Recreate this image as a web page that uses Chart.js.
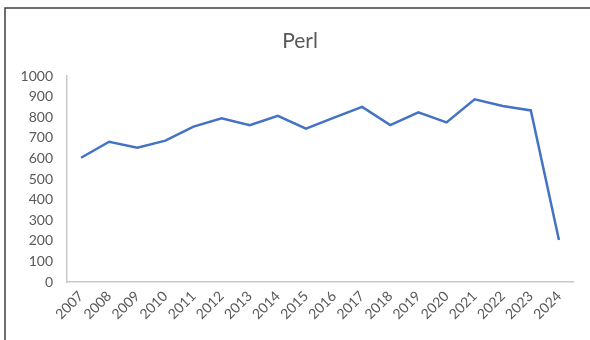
<!DOCTYPE html>
<html>
<head>
<meta charset="utf-8">
<script src="https://cdn.jsdelivr.net/npm/chart.js@4"></script>
<style>
  html, body { margin: 0; padding: 0; background: #ffffff; }
  #wrap { position: relative; width: 590px; height: 340px; }
</style>
</head>
<body>
<div id="wrap"><canvas id="chart" width="590" height="340"></canvas></div>
<script>
// Yearly values for the Perl series
const years = ['2007','2008','2009','2010','2011','2012','2013','2014','2015',
               '2016','2017','2018','2019','2020','2021','2022','2023','2024'];
const perlValues = [603, 681, 652, 686, 754, 795, 761, 807, 744,
                    798, 850, 762, 824, 775, 887, 854, 833, 204];
const yTicks = [0, 100, 200, 300, 400, 500, 600, 700, 800, 900, 1000];
const chartTitle = 'Perl';

const FONT = "Lato, 'Open Sans', sans-serif";
const TEXT = '#595959';
const AXIS = '#C9C9C9';

// Thin dark frame along the top and left edges, plus the title
const framePlugin = {
  id: 'frame',
  beforeDraw(chart) {
    const ctx = chart.ctx;
    ctx.save();
    ctx.fillStyle = '#ffffff';
    ctx.fillRect(0, 0, chart.width, chart.height);
    ctx.strokeStyle = '#3f3f3f';
    ctx.lineWidth = 1.5;
    ctx.beginPath();
    ctx.moveTo(5, chart.height);
    ctx.lineTo(5, 8);
    ctx.lineTo(chart.width, 8);
    ctx.stroke();
    ctx.restore();
  },
  afterDraw(chart) {
    const ctx = chart.ctx;
    ctx.save();
    ctx.fillStyle = TEXT;
    ctx.font = "21px " + FONT;
    ctx.textAlign = 'center';
    ctx.textBaseline = 'alphabetic';
    ctx.fillText(chartTitle, 300, 48);
    ctx.restore();
  }
};

new Chart(document.getElementById('chart'), {
  type: 'line',
  data: {
    labels: years,
    datasets: [{
      label: chartTitle,
      data: perlValues,
      borderColor: '#4472C4',
      backgroundColor: '#4472C4',
      borderWidth: 2.5,
      pointRadius: 0,
      tension: 0,
      fill: false
    }]
  },
  options: {
    responsive: false,
    animation: false,
    devicePixelRatio: 1,
    layout: { padding: { left: 0, right: 17, top: 76, bottom: 0 } },
    plugins: {
      legend: { display: false },
      title: { display: false },
      tooltip: { enabled: false }
    },
    scales: {
      x: {
        offset: true,
        grid: { display: false, drawTicks: false },
        border: { display: true, color: AXIS, width: 1.5 },
        ticks: {
          color: TEXT,
          font: { family: FONT, size: 14 },
          minRotation: 45,
          maxRotation: 45,
          autoSkip: false,
          padding: 6
        },
        afterFit(scale) { scale.height = 58; }
      },
      y: {
        min: 0,
        max: 1000,
        afterBuildTicks(scale) { scale.ticks = yTicks.map(v => ({ value: v })); },
        grid: { display: false, drawTicks: false },
        border: { display: true, color: AXIS, width: 1.5 },
        ticks: {
          color: TEXT,
          font: { family: FONT, size: 14 },
          padding: 14,
          callback: (value) => String(value)
        },
        afterFit(scale) { scale.width = 67; }
      }
    }
  },
  plugins: [framePlugin]
});
</script>
</body>
</html>
